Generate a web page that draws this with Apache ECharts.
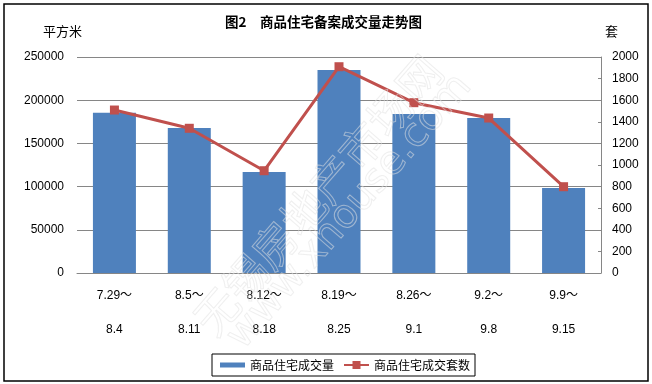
<!DOCTYPE html>
<html>
<head>
<meta charset="utf-8">
<script src="https://cdn.jsdelivr.net/npm/echarts@6/dist/echarts.min.js"></script>
<style>
html,body{margin:0;padding:0;background:#fff;}
#main{width:652px;height:384px;}
</style>
</head>
<body>
<div id="main"></div>
<script>
const periodStart = ['7.29～','8.5～','8.12～','8.19～','8.26～','9.2～','9.9～'];
const periodEnd = ['8.4','8.11','8.18','8.25','9.1','9.8','9.15'];
const areaValues = [185500, 167800, 116900, 235000, 184000, 179400, 98400];
const unitValues = [1509, 1340, 947, 1910, 1577, 1435, 799];
const seriesNames = ['商品住宅成交量', '商品住宅成交套数'];
const titleText = '图2　商品住宅备案成交量走势图';
const leftUnit = '平方米';
const rightUnit = '套';

const categories = periodStart.map((s, i) => s + '\n' + periodEnd[i]);
const font = '"Liberation Sans", Arial, "Noto Sans CJK SC", sans-serif';
const cjk = '"Noto Sans CJK SC", sans-serif';
const plain = v => String(v);

const chart = echarts.init(document.getElementById('main'), null, {renderer: 'canvas'});
chart.setOption({
  animation: false,
  backgroundColor: '#fff',
  title: {
    text: titleText,
    left: 225,
    top: 15,
    padding: 0,
    textStyle: {fontFamily: cjk, fontSize: 13.5, fontWeight: 'bold', color: '#000'}
  },
  legend: {
    left: 212,
    top: 354,
    padding: [5, 5, 5, 8],
    borderColor: '#000',
    borderWidth: 1,
    itemGap: 9,
    itemWidth: 25,
    itemHeight: 10,
    symbolKeepAspect: true,
    textStyle: {fontFamily: cjk, fontSize: 12, color: '#000'},
    data: [
      {name: seriesNames[0], icon: 'path://M0,0H25V5H0Z'},
      {name: seriesNames[1]}
    ]
  },
  grid: {left: 77, right: 51, top: 57, bottom: 111},
  xAxis: {
    type: 'category',
    data: categories,
    axisLine: {lineStyle: {color: '#868686', width: 1}},
    axisTick: {show: false},
    axisLabel: {fontFamily: font, fontSize: 12, color: '#000', lineHeight: 34, margin: 6, interval: 0}
  },
  yAxis: [
    {
      type: 'value', min: 0, max: 250000, interval: 50000,
      axisLine: {show: false},
      axisTick: {show: false},
      axisLabel: {fontFamily: font, fontSize: 12, color: '#000', margin: 13, formatter: plain},
      splitLine: {lineStyle: {color: '#868686', width: 1}}
    },
    {
      type: 'value', min: 0, max: 2000, interval: 200,
      axisLine: {show: true, lineStyle: {color: '#868686', width: 1}},
      axisTick: {show: true, inside: true, length: 3, lineStyle: {color: '#868686'}},
      axisLabel: {fontFamily: font, fontSize: 12, color: '#000', margin: 11, formatter: plain},
      splitLine: {show: false}
    }
  ],
  series: [
    {
      name: seriesNames[0],
      type: 'bar',
      yAxisIndex: 0,
      data: areaValues,
      barWidth: 43,
      itemStyle: {color: '#4F81BD'}
    },
    {
      name: seriesNames[1],
      type: 'line',
      yAxisIndex: 1,
      data: unitValues,
      symbol: 'rect',
      symbolSize: 9,
      lineStyle: {color: '#C0504D', width: 3},
      itemStyle: {color: '#C0504D'}
    }
  ],
  graphic: [
    {type: 'rect', shape: {x: 4, y: 4, width: 644, height: 377}, style: {fill: 'none', stroke: '#000', lineWidth: 1.5}, silent: true, z: 100},
    {type: 'text', left: 43, top: 25, style: {text: leftUnit, fontFamily: cjk, fontSize: 13, fill: '#000'}},
    {type: 'text', left: 605, top: 25, style: {text: rightUnit, fontFamily: cjk, fontSize: 13, fill: '#000'}},
    {type: 'text', x: 318, y: 195, rotation: 0.855, z: 50, silent: true,
     style: {text: '无锡房地产市场网', fontFamily: cjk, fontSize: 44, fill: 'rgba(0,0,0,0)', stroke: 'rgba(225,225,225,0.55)', lineWidth: 1, align: 'center', verticalAlign: 'middle'}},
    {type: 'text', x: 350, y: 212, rotation: 0.855, z: 50, silent: true,
     style: {text: 'www.xhouse.com', fontFamily: '"DejaVu Sans", sans-serif', fontSize: 40, fill: 'rgba(0,0,0,0)', stroke: 'rgba(225,225,225,0.55)', lineWidth: 1, align: 'center', verticalAlign: 'middle'}}
  ]
});
</script>
</body>
</html>
